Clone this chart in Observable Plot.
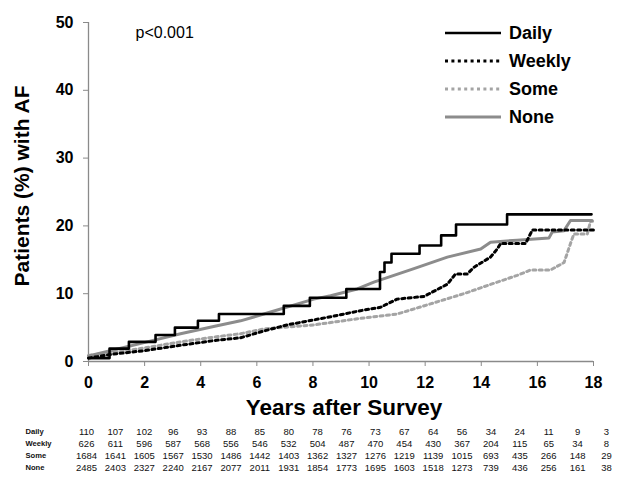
<!DOCTYPE html>
<html><head><meta charset="utf-8">
<script src="https://cdn.jsdelivr.net/npm/d3@7"></script>
<script src="https://cdn.jsdelivr.net/npm/@observablehq/plot@0.6"></script>
<style>
body{margin:0;background:#fff;font-family:"Liberation Sans",Arial,sans-serif;}
#wrap{position:relative;width:624px;height:488px;overflow:hidden;}
#wrap svg{display:block;}
#legend{position:absolute;left:0;top:0;}
</style></head><body><div id="wrap"></div>
<script>
// ---- data ----
const seriesNames = ["Daily","Weekly","Some","None"];
const xTicks = [0,2,4,6,8,10,12,14,16,18];
const yTicks = [0,10,20,30,40,50];

const dailyT = [0,0.75,1.44,2.39,3.08,3.9,4.65,6.96,7.89,9.19,10.39,10.55,10.8,11.8,12.57,13.1,14.92,17.93];
const dailyV = [0.5,1.9,2.9,3.9,5.0,6.0,7.0,8.2,9.4,10.7,13.2,14.6,15.9,17.1,18.6,20.2,21.7,21.7];

const weeklyT = [0,0.9,2,3.28,4.5,5.42,6.25,7.08,8.63,9.7,10.41,11.0,11.96,12.79,13.08,13.5,13.74,14.33,14.57,14.69,15.58,15.82,18.05];
const weeklyV = [0.5,1.1,1.6,2.4,3.1,3.5,4.5,5.4,6.6,7.5,8.0,9.2,9.6,11.4,12.9,12.9,13.9,15.4,16.6,17.4,17.4,19.4,19.4];

const someT = [0,1,2,3.28,4.47,5.42,6.25,8.03,9.58,11.0,12.19,13.38,14.21,15.28,15.76,16.47,16.95,17.18,17.3,17.78,17.9,18.0];
const someV = [0.9,1.4,2.0,2.9,3.6,4.1,4.8,5.4,6.3,7.0,8.5,10.0,11.2,12.7,13.5,13.5,14.6,17.4,18.8,18.8,20.8,20.6];

const noneT = [0,1,2.09,3.28,4.5,5.42,6.25,8.03,8.63,9.58,10.17,11.6,12.79,13.98,14.33,15.28,16.41,16.53,16.95,17.18,17.95];
const noneV = [0.8,1.8,2.9,4.1,5.2,6.0,7.0,9.2,9.7,10.7,11.7,13.7,15.4,16.6,17.6,17.9,18.2,19.1,19.3,20.8,20.8];

const riskYears  = [0,1,2,3,4,5,6,7,8,9,10,11,12,13,14,15,16,17,18];
const riskDaily  = [110,107,102,96,93,88,85,80,78,76,73,67,64,56,34,24,11,9,3];
const riskWeekly = [626,611,596,587,568,556,546,532,504,487,470,454,430,367,204,115,65,34,8];
const riskSome   = [1684,1641,1605,1567,1530,1486,1442,1403,1362,1327,1276,1219,1139,1015,693,435,266,148,29];
const riskNone   = [2485,2403,2327,2240,2167,2077,2011,1931,1854,1773,1695,1603,1518,1273,739,436,256,161,38];

const pText = "p<0.001";
const xLabel = "Years after Survey";
const yLabel = "Patients (%) with AF";

// ---- build ----
const toPts = (T, V) => T.map((t, i) => ({t, v: V[i]}));
const daily = toPts(dailyT, dailyV);
const weekly = toPts(weeklyT, weeklyV);
const some = toPts(someT, someV);
const none = toPts(noneT, noneV);

const styles = {
  Daily:  {stroke: "#000", strokeWidth: 2.6, dash: null},
  Weekly: {stroke: "#000", strokeWidth: 3, dash: "3,3.4"},
  Some:   {stroke: "#a4a4a4", strokeWidth: 3, dash: "3,3.4"},
  None:   {stroke: "#8c8c8c", strokeWidth: 3, dash: null}
};
const font = "Liberation Sans, Arial, sans-serif";

const main = Plot.plot({
  width: 624, height: 420,
  marginTop: 22, marginRight: 31, marginBottom: 59, marginLeft: 88,
  style: {fontFamily: font, background: "#fff", color: "#000"},
  x: {domain: [0, 18]},
  y: {domain: [0, 50]},
  marks: [
    Plot.ruleY([0], {stroke: "#8a8a8a", strokeWidth: 1.3}),
    Plot.ruleX([0], {stroke: "#8a8a8a", strokeWidth: 1.3}),
    Plot.axisX({ticks: xTicks, tickSize: 5, stroke: "#8a8a8a", fill: "#000", fontSize: 16, fontWeight: "bold", tickPadding: 10, label: null}),
    Plot.axisY({ticks: yTicks, tickSize: 5, stroke: "#8a8a8a", fill: "#000", fontSize: 16, fontWeight: "bold", tickPadding: 10, label: null}),
    Plot.line(some, {x: "t", y: "v", stroke: styles.Some.stroke, strokeWidth: 3, strokeDasharray: styles.Some.dash}),
    Plot.line(none, {x: "t", y: "v", stroke: styles.None.stroke, strokeWidth: 3}),
    Plot.line(weekly, {x: "t", y: "v", stroke: styles.Weekly.stroke, strokeWidth: 3, strokeDasharray: styles.Weekly.dash}),
    Plot.line(daily, {x: "t", y: "v", curve: "step-after", stroke: "#000", strokeWidth: 2.6}),
    Plot.text([pText], {frameAnchor: "top-left", dx: 47, dy: 10, fontSize: 16, fill: "#000", textAnchor: "start", lineAnchor: "middle", style: "letter-spacing:1.4px"}),
    Plot.text([xLabel], {frameAnchor: "bottom", dx: 3, dy: 53, fontSize: 22.5, fontWeight: "bold", fill: "#000"}),
    Plot.text([yLabel], {frameAnchor: "left", textAnchor: "middle", lineAnchor: "middle", dx: -66, dy: -6, rotate: -90, fontSize: 21, fontWeight: "bold", fill: "#000"})
  ]
});

const riskRows = [
  ...riskYears.map((x, i) => ({x, row: "Daily", n: riskDaily[i]})),
  ...riskYears.map((x, i) => ({x, row: "Weekly", n: riskWeekly[i]})),
  ...riskYears.map((x, i) => ({x, row: "Some", n: riskSome[i]})),
  ...riskYears.map((x, i) => ({x, row: "None", n: riskNone[i]}))
];

const table = Plot.plot({
  width: 624, height: 68,
  marginTop: 10, marginBottom: 20, marginLeft: 86, marginRight: 18,
  style: {fontFamily: font, background: "#fff", color: "#000"},
  x: {domain: [0, 18], axis: null},
  y: {type: "point", domain: seriesNames, padding: 0, axis: null},
  marks: [
    Plot.text(riskRows, {x: "x", y: "row", text: d => String(d.n), fontSize: 9.5, fill: "#111"}),
    Plot.text(seriesNames, {y: d => d, frameAnchor: "left", dx: -61, textAnchor: "start", fontSize: 7.6, fontWeight: "bold", fill: "#111"})
  ]
});

const wrap = document.getElementById("wrap");
wrap.appendChild(main);
wrap.appendChild(table);

// legend overlay
const leg = d3.select(wrap).append("svg").attr("id", "legend")
  .attr("width", 624).attr("height", 140);
const legX1 = 445, legX2 = 501, legTop = 33, legStep = 28;
seriesNames.forEach((name, i) => {
  const s = styles[name];
  const y = legTop + i * legStep;
  leg.append("line").attr("x1", legX1).attr("x2", legX2).attr("y1", y).attr("y2", y)
    .attr("stroke", s.stroke).attr("stroke-width", s.strokeWidth)
    .attr("stroke-dasharray", s.dash);
  leg.append("text").attr("x", 509).attr("y", y).attr("dy", "0.36em")
    .attr("font-family", font).attr("font-size", 18).attr("font-weight", "bold")
    .attr("fill", "#000").text(name);
});
</script></body></html>
